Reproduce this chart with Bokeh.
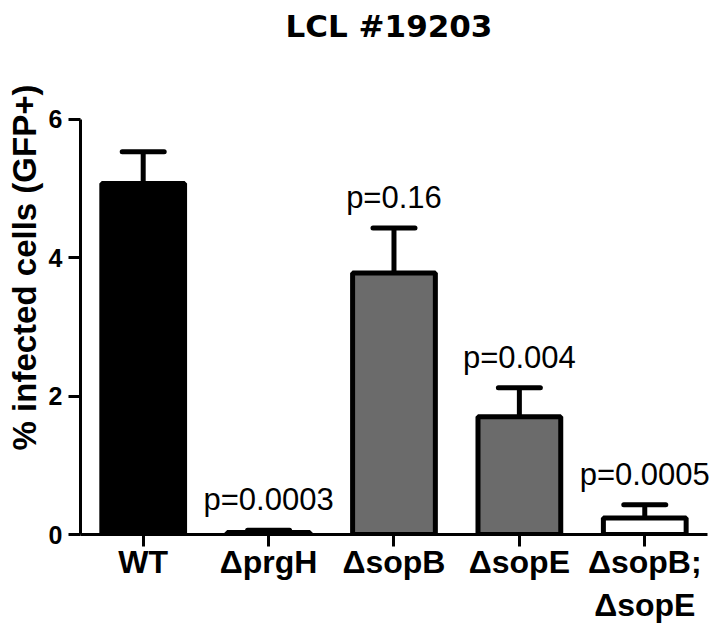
from bokeh.plotting import figure
from bokeh.models import ColumnDataSource, Range1d, FixedTicker, Whisker, TeeHead, LabelSet, Label
from bokeh.core.properties import value
from bokeh.embed import file_html
from bokeh.resources import INLINE

# ---- data ----
title_text = "LCL #19203"
categories = ["WT", "ΔprgH", "ΔsopB", "ΔsopE", "ΔsopB;\nΔsopE"]
means = [5.07, 0.03, 3.78, 1.70, 0.24]
upper = [5.53, 0.06, 4.43, 2.12, 0.43]
fills = ["#000000", "#ffffff", "#6b6b6b", "#6b6b6b", "#ffffff"]
p_labels = ["", "p=0.0003", "p=0.16", "p=0.004", "p=0.0005"]
y_ticks = [0, 2, 4, 6]

xs = list(range(len(categories)))
src = ColumnDataSource(dict(x=xs, top=means, upper=upper, fill=fills, plab=p_labels))

# plot area reaches the top of the canvas so the title (a label) sits inside it;
# the axis itself is bounded to 0..6
p = figure(width=720, height=625, output_backend="svg", toolbar_location=None,
           x_range=Range1d(-0.5, 4.604), y_range=Range1d(0, 7.716),
           min_border_left=80, min_border_right=0, min_border_top=0, min_border_bottom=90)
p.outline_line_color = None
p.xgrid.visible = False
p.ygrid.visible = False

title = Label(x=xs[2], y=y_ticks[-1], text=title_text, x_offset=-5, y_offset=93,
              text_align="center", text_baseline="alphabetic",
              text_font="DejaVu Sans", text_font_style="bold", text_font_size="31px",
              text_color="black")
p.add_layout(title)

p.vbar(x="x", top="top", width=0.66, bottom=0, source=src, fill_color="fill",
       line_color="black", line_width=5)

w = Whisker(base="x", upper="upper", lower="top", source=src, dimension="height",
            line_color="black", line_width=5,
            upper_head=TeeHead(size=42, line_width=5, line_color="black", line_cap="round"),
            lower_head=None)
p.add_layout(w)

labels = LabelSet(x="x", y="upper", text="plab", source=src, text_align="center",
                  text_baseline="alphabetic", y_offset=20, text_font=value("Liberation Sans"),
                  text_font_size="31px", text_color="black")
p.add_layout(labels)

# axes
p.xaxis.ticker = FixedTicker(ticks=xs)
p.xaxis.major_label_overrides = {i: c for i, c in enumerate(categories)}
p.xaxis.bounds = (-0.5, 4.5)
p.yaxis.ticker = FixedTicker(ticks=y_ticks)
p.yaxis.bounds = (0, 6)
for ax in (p.xaxis[0], p.yaxis[0]):
    ax.axis_line_width = 3
    ax.major_tick_line_width = 3
    ax.major_tick_out = 12
    ax.major_tick_in = 0
    ax.minor_tick_line_color = None
    ax.major_label_text_font = "Liberation Sans"
    ax.major_label_text_font_style = "bold"
    ax.major_label_text_color = "black"
    ax.axis_line_color = "black"
    ax.major_tick_line_color = "black"
p.xaxis.major_label_text_font_size = "32px"
p.xaxis.major_label_standoff = -3
p.xaxis.major_label_text_line_height = 1.2
p.yaxis.major_label_text_font_size = "25px"
p.yaxis.major_label_standoff = 6
yax = p.yaxis[0]
yax.axis_label = "% infected cells (GFP+)"
yax.axis_label_text_font = "Liberation Sans"
yax.axis_label_text_font_style = "bold"
yax.axis_label_text_font_size = "33px"
yax.axis_label_text_color = "black"
yax.axis_label_standoff = 3

open("out.html", "w").write(file_html(p, INLINE))
